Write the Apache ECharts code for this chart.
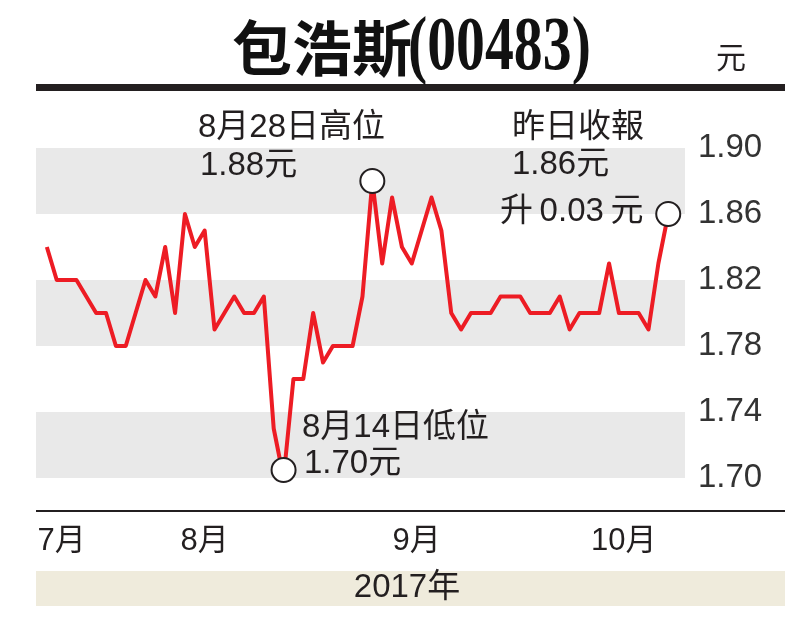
<!DOCTYPE html>
<html>
<head>
<meta charset="utf-8">
<script src="https://cdn.jsdelivr.net/npm/echarts@6/dist/echarts.min.js"></script>
<style>
  html, body { margin: 0; padding: 0; background: #fff; }
  #chart { width: 800px; height: 633px; }
</style>
</head>
<body>
<div id="chart"></div>
<script>
// ---- data ----
const prices = [1.84,1.82,1.82,1.82,1.81,1.80,1.80,1.78,1.78,1.80,1.82,1.81,1.84,1.80,1.86,1.84,1.85,1.79,1.80,1.81,1.80,1.80,1.81,1.73,1.70,1.76,1.76,1.80,1.77,1.78,1.78,1.78,1.81,1.88,1.83,1.87,1.84,1.83,1.85,1.87,1.85,1.80,1.79,1.80,1.80,1.80,1.81,1.81,1.81,1.80,1.80,1.80,1.81,1.79,1.80,1.80,1.80,1.83,1.80,1.80,1.80,1.79,1.83,1.86];
const keyPoints = [24, 33, 63];           // low (Aug 14), high (Aug 28), latest close
const monthTickPos = [1.5, 16, 37.5, 58.5];
const monthLabels = ['7月', '8月', '9月', '10月'];
const yTicks = [1.70, 1.74, 1.78, 1.82, 1.86, 1.90];

const FONT = "'Liberation Sans', 'Noto Sans CJK TC', sans-serif";
const INK = '#231f20';

const chart = echarts.init(document.getElementById('chart'));

const lineData = prices.map((v, i) => [i, v]);
const keyData = keyPoints.map((i, k) => ({
  value: [i, prices[i]],
  symbolOffset: k === 0 ? [0, -8] : [0, 0]
}));

function txt(text, x, y, size, extra) {
  return Object.assign({
    type: 'text', x: x, y: y, z: 20,
    style: { text: text, font: 'normal ' + size + 'px ' + FONT, fill: INK,
             textAlign: 'left', textVerticalAlign: 'middle' }
  }, extra || {});
}

const option = {
  animation: false,
  backgroundColor: '#fff',
  grid: { left: 36, right: 115, top: 148, bottom: 155 },
  xAxis: {
    type: 'value',
    min: -1.1, max: 64.7,
    offset: 33,
    axisLine: { show: false },
    axisTick: { show: false },
    splitLine: { show: false },
    axisLabel: {
      customValues: monthTickPos,
      formatter: function (v) {
        const k = monthTickPos.indexOf(v);
        return k >= 0 ? monthLabels[k] : '';
      },
      margin: 30,
      verticalAlign: 'middle',
      fontSize: 31,
      fontFamily: FONT,
      color: INK
    }
  },
  yAxis: {
    type: 'value',
    position: 'right',
    min: yTicks[0], max: yTicks[yTicks.length - 1], interval: 0.04,
    axisLine: { show: false },
    axisTick: { show: false },
    splitLine: { show: false },
    splitArea: { show: true, areaStyle: { color: ['#e9e9e9', '#ffffff'] } },
    axisLabel: {
      margin: 13,
      fontSize: 33,
      fontFamily: FONT,
      color: '#333',
      formatter: v => v.toFixed(2)
    }
  },
  series: [
    {
      type: 'line',
      data: lineData,
      symbol: 'none',
      clip: false,
      lineStyle: { color: '#ed1c24', width: 4, join: 'round' },
      z: 2
    },
    {
      type: 'scatter',
      data: keyData,
      symbol: 'circle',
      symbolSize: 24,
      itemStyle: { color: '#ffffff', borderColor: '#231f20', borderWidth: 2, opacity: 1 },
      emphasis: { disabled: true },
      z: 5
    }
  ],
  graphic: [
    // title
    { type: 'text', x: 232, y: 48, z: 20,
      style: { text: '包浩斯', font: 'bold 60px "Noto Sans CJK TC", sans-serif', fill: '#111',
               textAlign: 'left', textVerticalAlign: 'middle' } },
    { type: 'text', x: 408, y: 49, scaleX: 0.76, z: 20,
      style: { text: '(00483)', font: 'bold 76px "Liberation Serif", serif', fill: '#111',
               textAlign: 'left', textVerticalAlign: 'middle' } },
    txt('元', 731, 60, 30, { style: { text: '元', font: 'normal 30px ' + FONT, fill: INK, textAlign: 'center', textVerticalAlign: 'middle' } }),
    // rules
    { type: 'rect', z: 10, shape: { x: 36, y: 84, width: 749, height: 7 }, style: { fill: INK } },
    { type: 'rect', z: 10, shape: { x: 36, y: 510, width: 749, height: 2 }, style: { fill: INK } },
    { type: 'rect', z: 1, shape: { x: 36, y: 571, width: 749, height: 35 }, style: { fill: '#efebdc' } },
    txt('2017年', 407, 588, 33, { style: { text: '2017年', font: 'normal 33px ' + FONT, fill: INK, textAlign: 'center', textVerticalAlign: 'middle' } }),
    // annotations
    txt('8月28日高位', 198, 128, 33),
    txt('1.88元', 200, 166, 33),
    txt('昨日收報', 512, 128, 33),
    txt('1.86元', 512, 165, 33),
    txt('升\u20090.03\u2009元', 500, 212, 33),
    txt('8月14日低位', 302, 428, 33),
    txt('1.70元', 304, 464, 33)
  ]
};

chart.setOption(option);
</script>
</body>
</html>
